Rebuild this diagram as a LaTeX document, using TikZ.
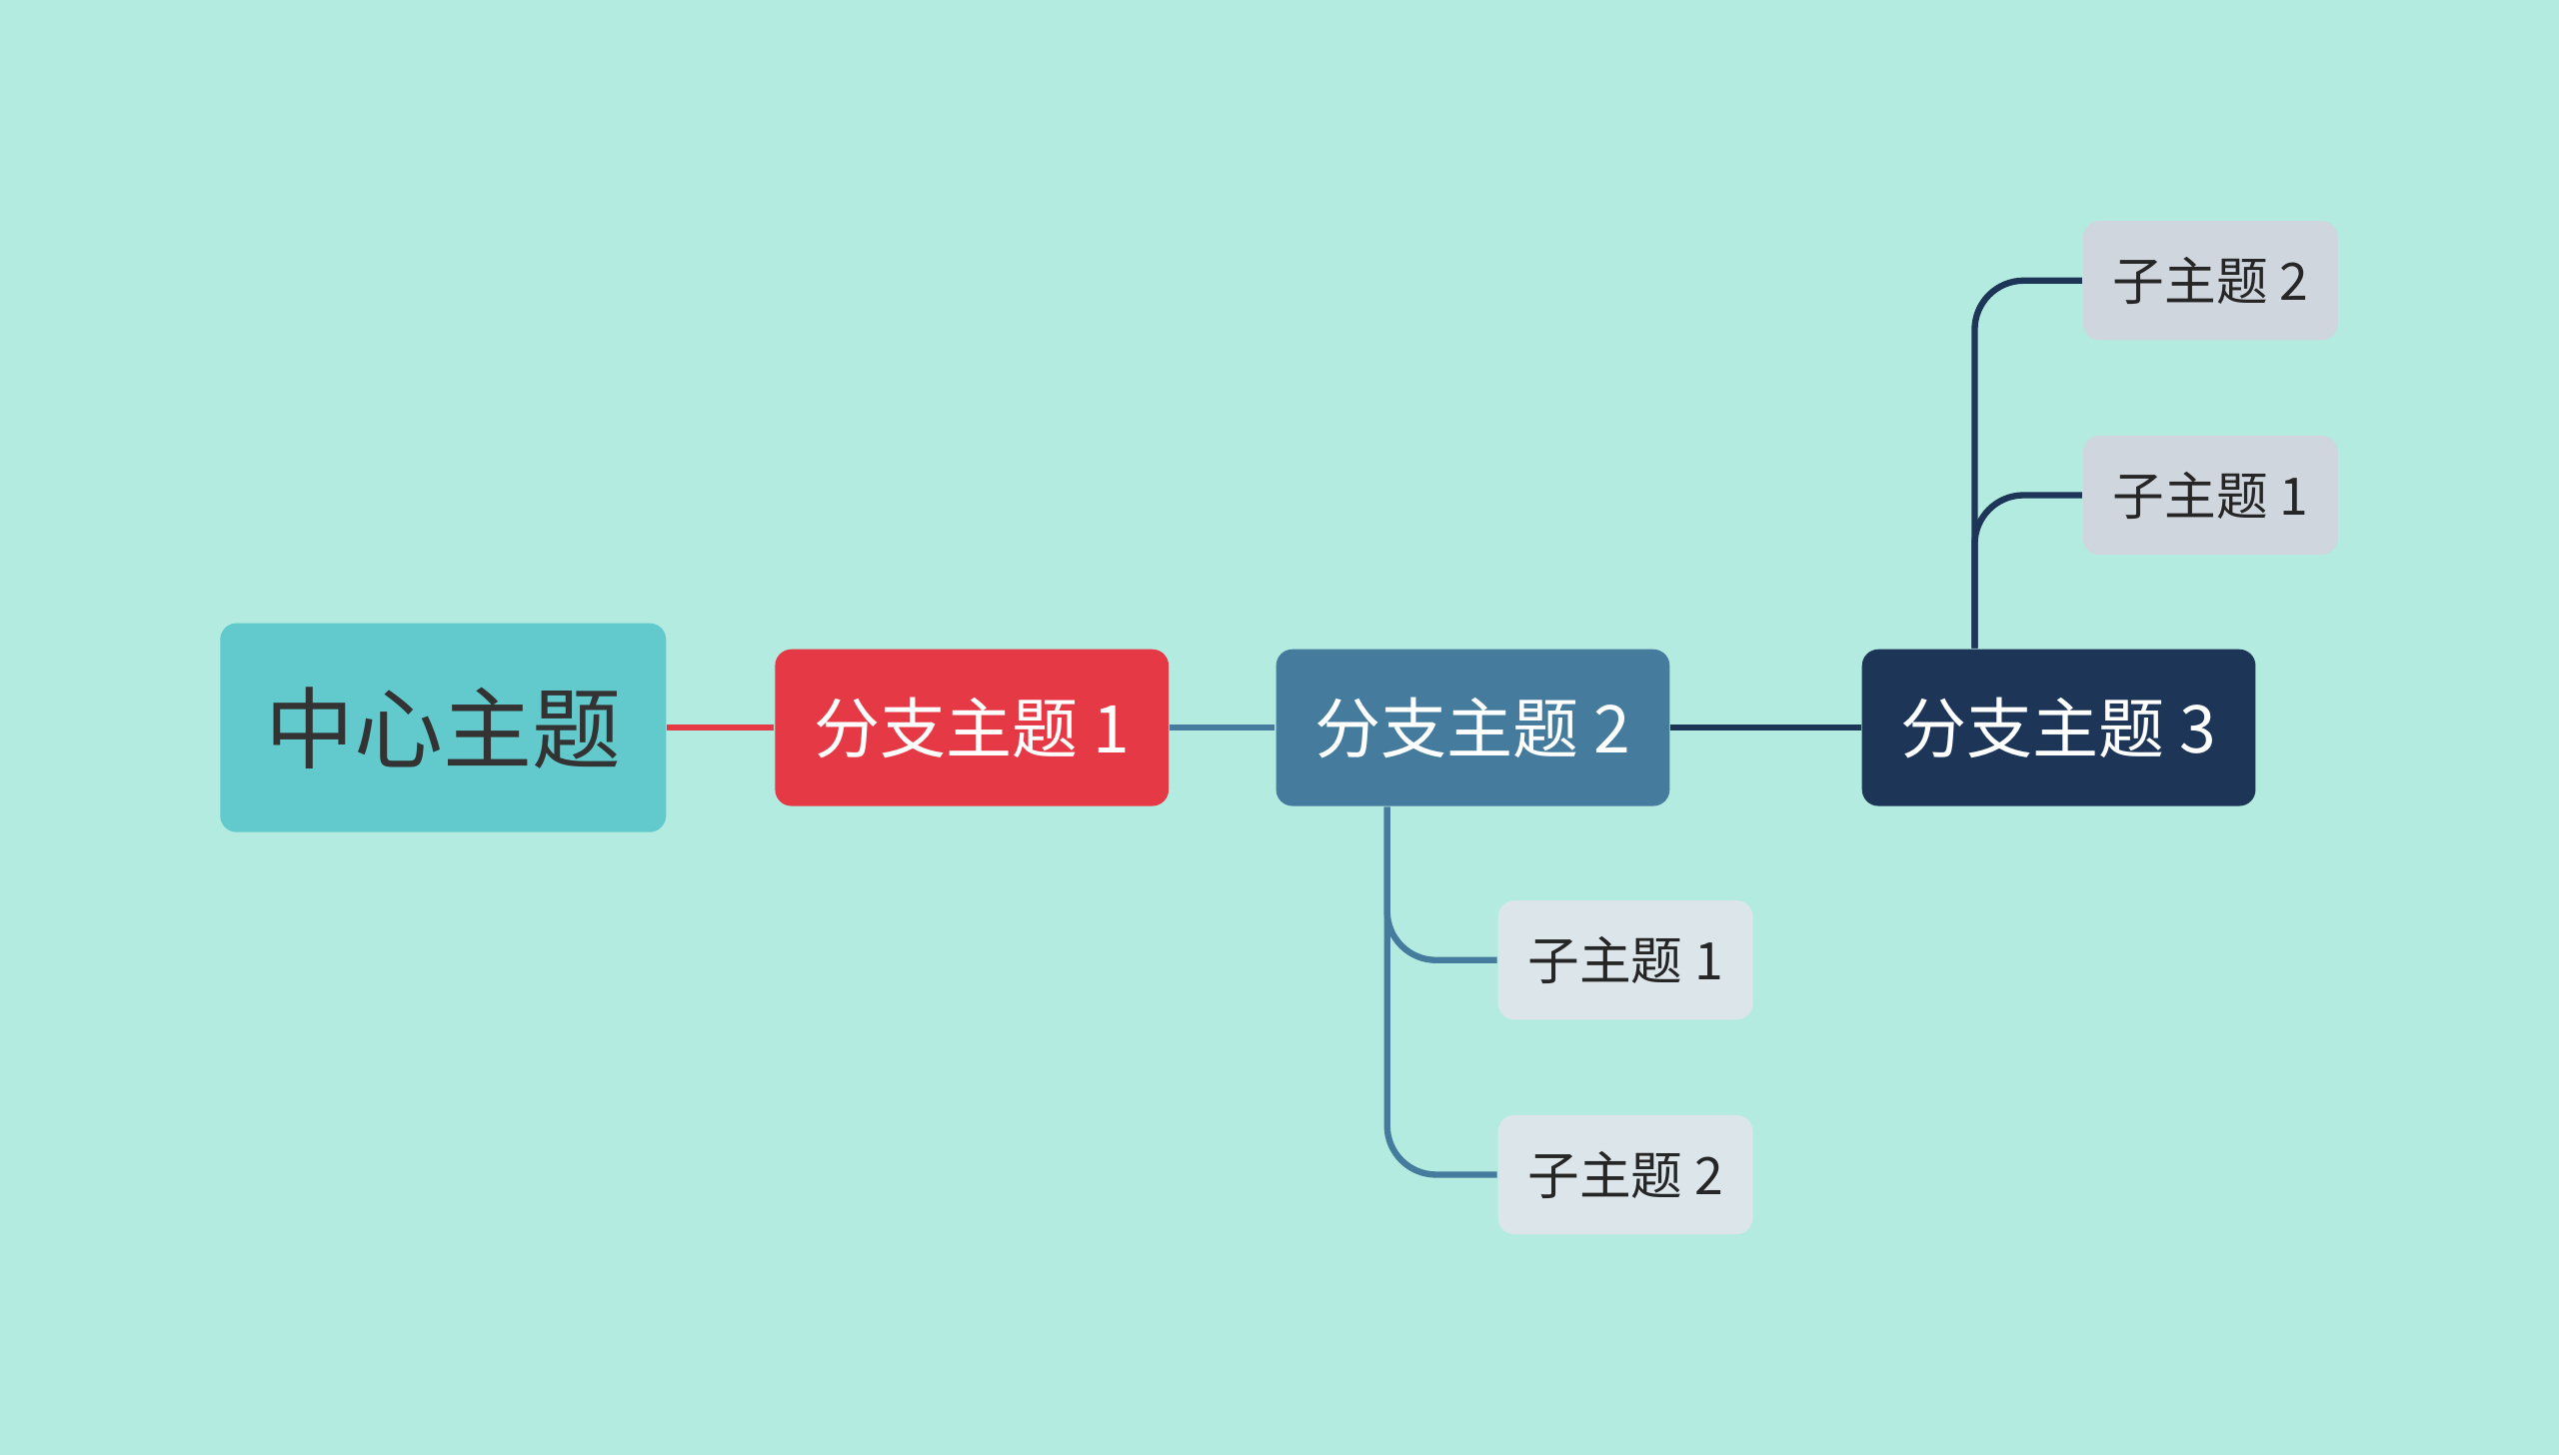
\documentclass[tikz,border=0pt]{standalone}
\usepackage{fontspec}
\setmainfont{Noto Sans CJK SC}
\usetikzlibrary{positioning}
\definecolor{bgmint}{HTML}{B3EBE0}
\definecolor{centerfill}{HTML}{62CACC}
\definecolor{redfill}{HTML}{E63946}
\definecolor{steelfill}{HTML}{457B9D}
\definecolor{navyfill}{HTML}{1D3557}
\definecolor{subfillA}{HTML}{DCE6EA}
\definecolor{subfillB}{HTML}{D0D6DE}
\begin{document}
\begin{tikzpicture}[x=0.01cm, y=-0.01cm,
    topic/.style={rectangle, rounded corners=0.1cm, inner sep=0pt, align=center},
    centertopic/.style={topic, fill=centerfill, text=black!80, minimum width=2.73cm, minimum height=1.28cm, font=\fontsize{15.5}{18}\selectfont},
    branch/.style={topic, text=white, minimum width=2.41cm, minimum height=0.96cm, font=\fontsize{11.5}{14}\selectfont},
    subtopic/.style={topic, text=black!85, minimum width=1.56cm, minimum height=0.73cm, font=\fontsize{9}{11}\selectfont},
    link/.style={line width=1.1pt, rounded corners=0.3cm}
]
\fill[bgmint] (0,0) rectangle (1568,892);

% Main nodes
\node[centertopic] (c) at (271.5,446) {中心主题};
\node[branch, fill=redfill] (b1) at (595.5,446) {分支主题 1};
\node[branch, fill=steelfill] (b2) at (902.5,446) {分支主题 2};
\node[branch, fill=navyfill] (b3) at (1261.5,446) {分支主题 3};

% Sub topics
\node[subtopic, fill=subfillA] (s21) at (996,588.5) {子主题 1};
\node[subtopic, fill=subfillA] (s22) at (996,720) {子主题 2};
\node[subtopic, fill=subfillB] (s31) at (1354.5,303.5) {子主题 1};
\node[subtopic, fill=subfillB] (s32) at (1354.5,172) {子主题 2};

% Connectors
\draw[link, redfill] (c) -- (b1);
\draw[link, steelfill] (b1) -- (b2);
\draw[link, navyfill] (b2) -- (b3);
\draw[link, steelfill] ([xshift=-0.525cm]b2.south) |- (s21.west);
\draw[link, steelfill] ([xshift=-0.525cm]b2.south) |- (s22.west);
\draw[link, navyfill] ([xshift=-0.515cm]b3.north) |- (s31.west);
\draw[link, navyfill] ([xshift=-0.515cm]b3.north) |- (s32.west);
\end{tikzpicture}
\end{document}
